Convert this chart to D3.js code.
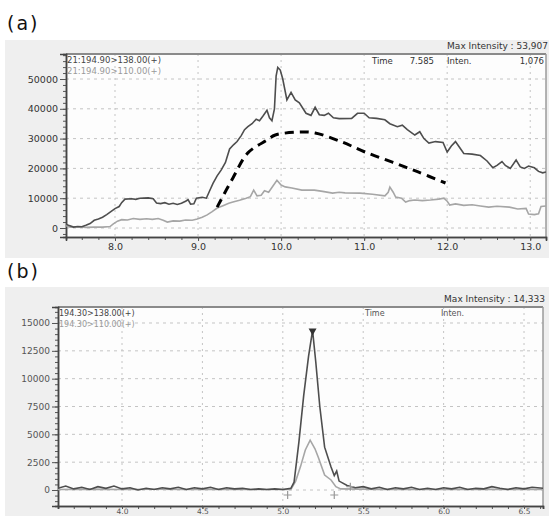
<!DOCTYPE html>
<html>
<head>
<meta charset="utf-8">
<script src="https://cdn.jsdelivr.net/npm/d3@7"></script>
<style>
  body { margin: 0; background: #fff; }
  text { font-family: "DejaVu Sans", sans-serif; }
</style>
</head>
<body>
<script>
"use strict";

// ---- panel (a) data : [time, intensity] ----
const a138 = [
  [7.41,1300],[7.45,800],[7.50,300],[7.55,500],[7.60,400],[7.65,900],[7.70,1500],[7.75,2600],
  [7.80,3000],[7.85,3600],[7.90,4500],[7.95,5500],[8.00,6500],[8.05,7200],[8.08,8500],[8.12,9700],
  [8.20,9800],[8.25,9600],[8.30,10000],[8.40,10100],[8.46,9800],[8.50,8400],[8.55,8200],[8.60,8500],
  [8.65,8000],[8.70,8300],[8.75,7900],[8.80,8300],[8.85,9000],[8.88,9500],[8.91,8000],[8.95,8100],
  [8.98,10000],[9.05,10300],[9.10,10000],[9.14,12500],[9.18,15000],[9.23,17500],[9.28,19500],
  [9.33,22000],[9.38,26500],[9.43,28000],[9.47,29000],[9.52,31000],[9.56,33000],[9.60,34000],
  [9.65,35000],[9.70,36500],[9.74,36000],[9.78,37500],[9.83,39500],[9.86,37000],[9.89,36000],
  [9.92,40000],[9.94,51000],[9.96,53907],[9.99,53000],[10.02,50000],[10.07,43000],[10.12,45500],
  [10.17,43000],[10.22,42000],[10.30,38500],[10.36,37800],[10.41,40500],[10.46,38000],[10.52,37800],
  [10.57,38500],[10.63,37000],[10.70,36700],[10.85,36800],[10.92,38500],[11.00,38500],[11.06,37000],
  [11.15,36800],[11.25,36300],[11.31,35000],[11.40,34000],[11.46,34500],[11.52,33000],[11.61,31200],
  [11.67,32300],[11.72,30000],[11.78,28500],[11.86,29000],[11.95,28700],[12.00,25500],[12.05,27500],
  [12.10,29000],[12.15,27000],[12.20,25000],[12.30,24800],[12.40,24300],[12.48,22500],[12.55,20200],
  [12.60,21000],[12.66,22300],[12.70,21000],[12.76,20000],[12.83,22800],[12.88,20500],[12.93,20000],
  [12.98,20800],[13.05,20200],[13.10,19000],[13.15,18500],[13.19,18800]
];
const a110 = [
  [7.41,800],[7.46,300],[7.55,400],[7.65,200],[7.75,300],[7.85,300],[7.94,500],[7.98,1400],
  [8.03,2300],[8.08,2800],[8.15,2700],[8.22,3200],[8.30,2900],[8.38,3100],[8.45,2900],[8.52,3200],
  [8.58,2600],[8.63,2000],[8.70,2400],[8.78,2300],[8.85,2700],[8.93,2600],[8.99,3000],[9.05,3600],
  [9.11,4400],[9.17,5500],[9.23,6700],[9.30,7500],[9.37,8300],[9.42,8700],[9.50,9300],[9.58,10000],
  [9.63,10500],[9.67,12700],[9.71,10800],[9.76,11000],[9.80,12500],[9.85,12000],[9.90,14000],
  [9.95,16000],[10.00,14400],[10.05,13800],[10.13,13400],[10.25,12700],[10.40,12700],[10.50,12300],
  [10.62,11700],[10.70,12000],[10.77,11800],[10.95,11700],[11.10,11300],[11.25,10800],[11.29,12000],
  [11.31,13700],[11.35,12000],[11.38,10400],[11.45,10000],[11.50,8700],[11.55,9200],[11.61,9400],
  [11.70,9200],[11.80,9400],[11.90,9700],[11.96,10000],[12.00,9000],[12.03,7700],[12.10,8100],
  [12.20,7600],[12.30,7800],[12.40,7400],[12.50,7000],[12.60,7300],[12.75,7000],[12.85,6400],
  [12.95,6600],[12.98,4700],[13.05,4500],[13.10,4800],[13.13,7200],[13.19,7400]
];
const aTrend = [
  [9.23,7000],[9.42,16800],[9.60,25200],[9.83,29500],[9.93,31200],[10.23,32200],[10.41,31900],
  [10.73,28900],[11.01,25500],[11.34,22100],[11.65,18800],[11.98,15100]
];
const aYTicks = [0, 10000, 20000, 30000, 40000, 50000];
const aXTicks = [8, 9, 10, 11, 12, 13];

// ---- panel (b) data ----
const b138 = [
  [3.60,150],[3.65,350],[3.70,100],[3.75,250],[3.80,50],[3.85,300],[3.90,150],[3.95,350],[4.00,100],
  [4.05,200],[4.10,0],[4.15,150],[4.20,50],[4.25,200],[4.30,100],[4.35,250],[4.40,50],[4.45,200],
  [4.50,100],[4.55,250],[4.60,50],[4.65,200],[4.70,100],[4.75,150],[4.80,50],[4.85,100],[4.90,50],
  [4.95,100],[5.00,50],[5.05,150],[5.07,700],[5.10,4300],[5.13,8500],[5.16,12000],[5.185,14333],
  [5.205,11500],[5.23,7500],[5.26,3850],[5.30,2060],[5.32,1300],[5.335,1700],[5.35,800],[5.40,400],
  [5.45,200],[5.50,300],[5.55,100],[5.60,250],[5.65,50],[5.70,200],[5.75,100],[5.80,250],[5.85,50],
  [5.90,150],[5.95,50],[6.00,200],[6.05,100],[6.10,250],[6.15,50],[6.20,150],[6.25,100],[6.30,300],
  [6.35,150],[6.40,50],[6.45,200],[6.50,100],[6.55,250],[6.62,150]
];
const b110 = [
  [3.60,50],[3.80,80],[4.00,40],[4.20,70],[4.40,40],[4.60,60],[4.80,40],[5.05,50],[5.08,800],
  [5.11,2100],[5.14,3600],[5.17,4480],[5.20,3700],[5.22,2960],[5.26,1340],[5.30,900],[5.33,300],
  [5.36,100],[5.60,60],[5.90,40],[6.20,60],[6.62,50]
];
const bMarks = [[5.03,-450],[5.32,-450],[5.42,300]];
const bYTicks = [0, 2500, 5000, 7500, 10000, 12500, 15000];
const bXTicks = [4.0, 4.5, 5.0, 5.5, 6.0, 6.5];

const svg = d3.select("body").append("svg")
  .attr("width", 549).attr("height", 516);

function drawPanel(p) {
  const g = svg.append("g");
  g.append("text").attr("x", 7).attr("y", p.labelY)
    .style("font-size", "19px").style("letter-spacing", "2px").attr("fill", "#111")
    .text(p.label);
  g.append("rect").attr("x", 5).attr("y", p.bgTop).attr("width", 544).attr("height", p.bgH)
    .attr("fill", "#efefef");
  g.append("rect").attr("x", p.left).attr("y", p.top)
    .attr("width", p.right - p.left).attr("height", p.bottom - p.top)
    .attr("fill", "#fdfdfd");

  const x = d3.scaleLinear().domain(p.xDom).range([p.left, p.right]);
  const y = d3.scaleLinear().domain(p.yDom).range([p.bottom, p.top]);

  // grid
  g.append("g").selectAll("line").data(p.xTicks).join("line")
    .attr("x1", d => x(d)).attr("x2", d => x(d)).attr("y1", p.top).attr("y2", p.bottom)
    .attr("stroke", "#c4c4c4").attr("stroke-dasharray", "2,4");
  g.append("g").selectAll("line").data(p.yTicks).join("line")
    .attr("x1", p.left).attr("x2", p.right).attr("y1", d => y(d)).attr("y2", d => y(d))
    .attr("stroke", "#c4c4c4").attr("stroke-dasharray", "3,4");

  // frame
  g.append("line").attr("x1", p.left).attr("x2", p.right).attr("y1", p.top).attr("y2", p.top)
    .attr("stroke", "#8a8a8a").attr("stroke-width", 2);
  g.append("line").attr("x1", p.right).attr("x2", p.right).attr("y1", p.top).attr("y2", p.bottom)
    .attr("stroke", "#9a9a9a").attr("stroke-width", 1.5);

  // axes
  const yMinor = d3.range(Math.ceil(p.yDom[0] / p.yMinor) * p.yMinor, p.yDom[1], p.yMinor);
  const xMinor = d3.range(Math.ceil(p.xDom[0] / p.xMinor) * p.xMinor, p.xDom[1], p.xMinor);
  const yAx = g.append("g").attr("transform", `translate(${p.left},0)`)
    .call(d3.axisLeft(y).tickValues(yMinor).tickSize(3).tickFormat(""));
  const yAx2 = g.append("g").attr("transform", `translate(${p.left},0)`)
    .call(d3.axisLeft(y).tickValues(p.yTicks).tickSize(6).tickPadding(2).tickFormat(d3.format("d")));
  const xAx = g.append("g").attr("transform", `translate(0,${p.bottom})`)
    .call(d3.axisBottom(x).tickValues(xMinor).tickSize(3).tickFormat(""));
  const xAx2 = g.append("g").attr("transform", `translate(0,${p.bottom})`)
    .call(d3.axisBottom(x).tickValues(p.xTicks).tickSize(p.xTick).tickPadding(p.xPad).tickFormat(d3.format(".1f")));
  [yAx, yAx2, xAx, xAx2].forEach(a => {
    a.select(".domain").attr("stroke", "#444").attr("stroke-width", 1.5);
    a.selectAll(".tick line").attr("stroke", "#555");
    a.selectAll("text").style("font-size", p.tickFont).attr("fill", p.tickColor)
      .style("font-family", "DejaVu Sans, sans-serif");
  });
  xAx2.selectAll("text").style("font-size", p.xFont);

  // traces
  const clipId = "clip" + p.label.replace(/\W/g, "");
  svg.append("clipPath").attr("id", clipId).append("rect")
    .attr("x", p.left).attr("y", p.top).attr("width", p.right - p.left).attr("height", p.bottom - p.top);
  const line = d3.line().x(d => x(d[0])).y(d => y(d[1]));
  const traces = g.append("g").attr("clip-path", `url(#${clipId})`);
  traces.append("path").datum(p.light).attr("d", line)
    .attr("fill", "none").attr("stroke", "#a6a6a6").attr("stroke-width", 1.6);
  traces.append("path").datum(p.dark).attr("d", line)
    .attr("fill", "none").attr("stroke", "#4e4e4e").attr("stroke-width", 1.6);

  // legend text
  g.append("text").attr("x", p.left + 1).attr("y", p.top + 9).style("font-size", p.legFont)
    .attr("fill", "#444").text(p.leg1);
  g.append("text").attr("x", p.left + 1).attr("y", p.top + 20).style("font-size", p.legFont)
    .attr("fill", "#999").text(p.leg2);
  g.append("text").attr("x", p.right + 2).attr("y", p.top - 5).attr("text-anchor", "end")
    .style("font-size", "9px").attr("fill", "#333").text(p.maxText);

  return { g, x, y, line };
}

// panel (a)
const pa = drawPanel({
  label: "(a)", labelY: 30, bgTop: 40, bgH: 218,
  left: 66, right: 546, top: 54, bottom: 237,
  xDom: [7.41, 13.19], yDom: [-3020, 58390],
  xTicks: aXTicks, yTicks: aYTicks, xMinor: 0.2, yMinor: 2000, xTick: 4, xPad: 2,
  tickFont: "9.5px", xFont: "9.5px", tickColor: "#333",
  dark: a138, light: a110,
  leg1: "21:194.90>138.00(+)", leg2: "21:194.90>110.00(+)", legFont: "8.5px",
  maxText: "Max Intensity : 53,907"
});
pa.g.append("text").attr("x", 372).attr("y", 64).style("font-size", "8.5px").attr("fill", "#333").text("Time");
pa.g.append("text").attr("x", 434).attr("y", 64).attr("text-anchor", "end").style("font-size", "8.5px").attr("fill", "#333").text("7.585");
pa.g.append("text").attr("x", 447).attr("y", 64).style("font-size", "8.5px").attr("fill", "#333").text("Inten.");
pa.g.append("text").attr("x", 544).attr("y", 64).attr("text-anchor", "end").style("font-size", "8.5px").attr("fill", "#333").text("1,076");
pa.g.append("path").datum(aTrend)
  .attr("d", d3.line().x(d => pa.x(d[0])).y(d => pa.y(d[1])).curve(d3.curveCatmullRom))
  .attr("fill", "none").attr("stroke", "#000").attr("stroke-width", 3).attr("stroke-dasharray", "9,6");

// panel (b)
const pb = drawPanel({
  label: "(b)", labelY: 278, bgTop: 287, bgH: 229,
  left: 58, right: 543, top: 307, bottom: 506,
  xDom: [3.602, 6.618], yDom: [-1437, 16437],
  xTicks: bXTicks, yTicks: bYTicks, xMinor: 0.1, yMinor: 500, xTick: 3, xPad: 0,
  tickFont: "9px", xFont: "7.5px", tickColor: "#555",
  dark: b138, light: b110,
  leg1: "194.30>138.00(+)", leg2: "194.30>110.00(+)", legFont: "8px",
  maxText: "Max Intensity : 14,333"
});
pb.g.append("text").attr("x", 365).attr("y", 316).style("font-size", "8px").attr("fill", "#555").text("Time");
pb.g.append("text").attr("x", 441).attr("y", 316).style("font-size", "8px").attr("fill", "#555").text("Inten.");
pb.g.selectAll(".mk").data(bMarks).join("path")
  .attr("d", d => `M${pb.x(d[0]) - 4},${pb.y(d[1])}h8M${pb.x(d[0])},${pb.y(d[1]) - 4}v8`)
  .attr("stroke", "#999").attr("stroke-width", 1.2);
// peak marker
const pk = b138.find(d => d[1] === 14333);
pb.g.append("path")
  .attr("d", `M${pb.x(pk[0]) - 4},${pb.y(pk[1]) - 2}h8l-4,7z`).attr("fill", "#333");
pb.g.append("text")
  .attr("transform", `translate(${pb.x(pk[0]) + 3},${pb.top + 1}) rotate(90)`)
  .style("font-size", "7.5px").attr("fill", "#444").text("11   5.185");
</script>
</body>
</html>
